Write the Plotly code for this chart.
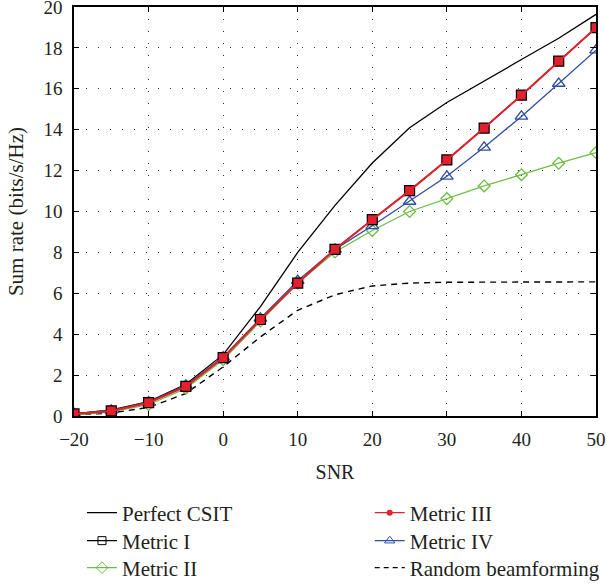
import plotly.graph_objects as go

snr = [-20, -15, -10, -5, 0, 5, 10, 15, 20, 25, 30, 35, 40, 45, 50]
perfect_csit = [0.1, 0.3, 0.7, 1.55, 3.0, 5.35, 8.0, 10.3, 12.37, 14.1, 15.33, 16.4, 17.43, 18.47, 19.64]
metric_1 = [0.1, 0.25, 0.65, 1.45, 2.85, 4.72, 6.5, 8.15, 9.6, 11.02, 12.52, 14.08, 15.69, 17.35, 18.99]
metric_2 = [0.05, 0.2, 0.55, 1.35, 2.75, 4.65, 6.5, 8.02, 9.07, 10.0, 10.63, 11.25, 11.8, 12.36, 12.88]
metric_3 = [0.1, 0.25, 0.65, 1.45, 2.85, 4.72, 6.5, 8.15, 9.6, 11.02, 12.52, 14.08, 15.69, 17.35, 18.99]
metric_4 = [0.12, 0.28, 0.68, 1.5, 2.88, 4.78, 6.62, 8.15, 9.3, 10.49, 11.72, 13.14, 14.65, 16.26, 17.89]
random_bf = [0.05, 0.15, 0.42, 1.1, 2.4, 3.87, 5.17, 5.93, 6.36, 6.5, 6.54, 6.55, 6.56, 6.56, 6.56]

x_ticks = [-20, -10, 0, 10, 20, 30, 40, 50]
x_ticktext = ["\u221220", "\u221210", "0", "10", "20", "30", "40", "50"]
y_ticks = [0, 2, 4, 6, 8, 10, 12, 14, 16, 18, 20]

RED = "#e3202b"
BLUE = "#2f4ea0"
GREEN = "#6dbd45"
TXT = "#231f20"
FONT = "Liberation Serif"

fig = go.Figure()

# data traces (drawn)
fig.add_trace(go.Scatter(x=snr, y=random_bf, mode="lines", showlegend=False,
                         line=dict(color="black", width=1.4, dash="6px,5px")))
fig.add_trace(go.Scatter(x=snr, y=perfect_csit, mode="lines", showlegend=False,
                         line=dict(color="black", width=1.3)))
fig.add_trace(go.Scatter(x=snr, y=metric_2, mode="lines+markers", showlegend=False,
                         line=dict(color=GREEN, width=1.3),
                         marker=dict(symbol="diamond-open", size=9, color=GREEN, line=dict(width=1.3))))
fig.add_trace(go.Scatter(x=snr, y=metric_4, mode="lines+markers", showlegend=False,
                         line=dict(color=BLUE, width=1.3),
                         marker=dict(symbol="triangle-up-open", size=11, color=BLUE, line=dict(width=1.3))))
fig.add_trace(go.Scatter(x=snr, y=metric_1, mode="lines+markers", showlegend=False,
                         line=dict(color="black", width=1.3),
                         marker=dict(symbol="square", size=10, color=RED, line=dict(color="black", width=1.2))))
fig.add_trace(go.Scatter(x=snr, y=metric_3, mode="lines", showlegend=False,
                         line=dict(color=RED, width=2)))

# legend entries: (name, line, marker, column, row)
legend_items = [
    ("Perfect CSIT", dict(color="black", width=1.3), None, 0, 0),
    ("Metric I", dict(color="black", width=1.3), dict(symbol="square-open", size=8, color="black"), 0, 1),
    ("Metric II", dict(color=GREEN, width=1.3), dict(symbol="diamond-open", size=9, color=GREEN), 0, 2),
    ("Metric III", dict(color=RED, width=1.3), dict(symbol="circle", size=6, color=RED), 1, 0),
    ("Metric IV", dict(color=BLUE, width=1.3), dict(symbol="triangle-up-open", size=9, color=BLUE), 1, 1),
    ("Random beamforming", dict(color="black", width=1.3, dash="5px,4px"), None, 1, 2),
]
col_x = [0.0153, 0.5665]
row_y_px = [513, 541, 568]

legend_layouts = {}
for i, (name, ln, mk, col, row) in enumerate(legend_items):
    key = "legend" if i == 0 else f"legend{i + 1}"
    fig.add_trace(go.Scatter(x=[None], y=[None], name=name, legend=key,
                             mode="lines+markers" if mk else "lines", line=ln, marker=mk))
    legend_layouts[key] = dict(
        font=dict(family=FONT, size=21, color=TXT), bgcolor="rgba(0,0,0,0)",
        orientation="v", xanchor="left", yanchor="middle",
        x=col_x[col], xref="paper", y=(588 - row_y_px[row]) / 588, yref="container",
        itemwidth=30,
    )

axis_common = dict(
    showline=True, linecolor="black", linewidth=1.5, mirror="ticks",
    ticks="inside", ticklen=5, tickcolor="black", tickwidth=1,
    showgrid=True, gridcolor="#333333", gridwidth=1, griddash="1px,11px",
    zeroline=False, tickfont=dict(family=FONT, size=19, color=TXT),
    ticklabeloverflow="allow",
)

fig.update_xaxes(range=[-20, 50], tickvals=x_ticks, ticktext=x_ticktext, ticklabelstandoff=5,
                 title=dict(text="SNR", font=dict(family=FONT, size=20, color=TXT), standoff=16),
                 **axis_common)
fig.update_yaxes(range=[0, 20], tickvals=y_ticks, ticklabelstandoff=6,
                 title=dict(text="Sum rate (bits/s/Hz)", font=dict(family=FONT, size=21, color=TXT), standoff=14),
                 **axis_common)

fig.update_layout(
    width=606, height=588,
    margin=dict(l=74, r=10, t=7, b=172, autoexpand=False),
    plot_bgcolor="white", paper_bgcolor="white",
    font=dict(family=FONT, size=19, color=TXT),
    **legend_layouts,
)

fig.write_html("out.html", config={"displayModeBar": False},
               post_script="document.body.style.margin='0px';document.body.style.overflow='hidden';")
